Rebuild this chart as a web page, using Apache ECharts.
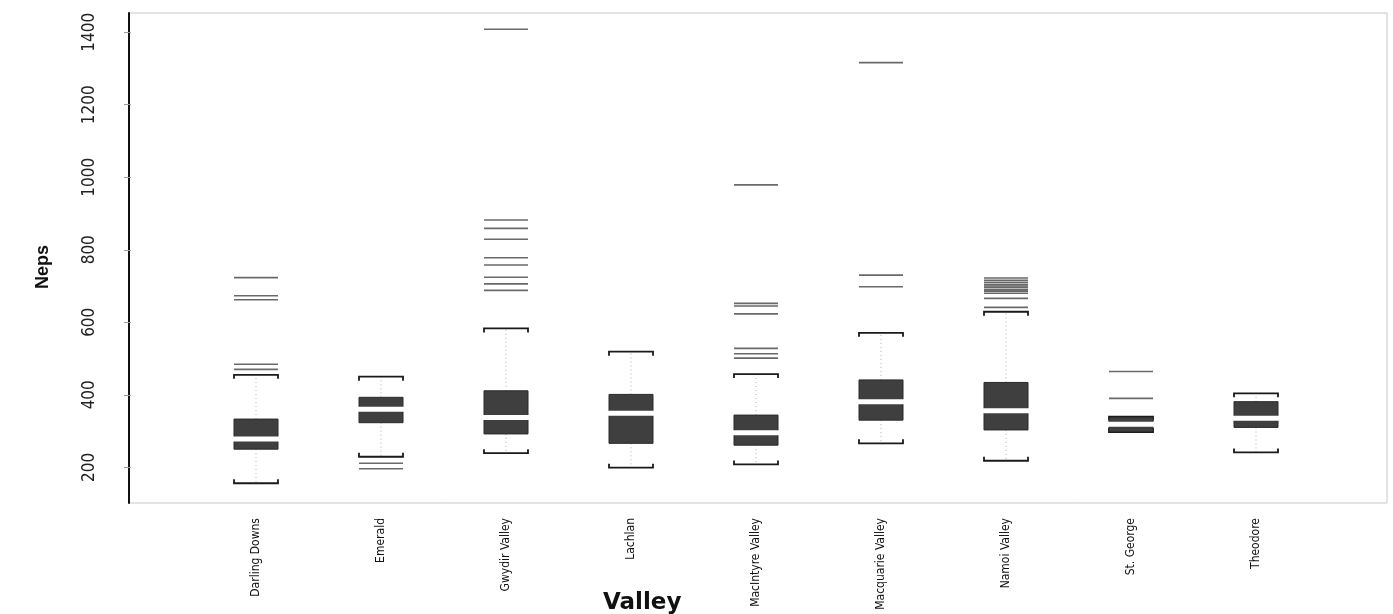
<!DOCTYPE html>
<html>
<head>
<meta charset="utf-8">
<script src="https://cdn.jsdelivr.net/npm/echarts@6/dist/echarts.min.js"></script>
<style>
html,body{margin:0;padding:0;background:#fff;}
#chart{width:1393px;height:614px;}
</style>
</head>
<body>
<div id="chart"></div>
<script>
const categories = ['Darling Downs','Emerald','Gwydir Valley','Lachlan','MacIntyre Valley','Macquarie Valley','Namoi Valley','St. George','Theodore'];
const lowerWhisker = [156, 229, 239, 199, 208, 266, 218, 297, 241];
const q1 = [250, 323, 292, 266, 261, 330, 303, 298, 310];
const median = [278, 360, 337, 349, 295, 381, 356, 319, 335];
const q3 = [333, 393, 411, 401, 344, 441, 434, 337, 381];
const upperWhisker = [455, 450, 583, 519, 457, 571, 629, 340, 404];
const outliers = [
  [723, 673, 662, 484, 470],
  [211, 196],
  [1408, 882, 859, 829, 778, 758, 724, 706, 688],
  [],
  [979, 652, 645, 623, 528, 513, 501],
  [1316, 730, 698],
  [722, 716, 710, 704, 700, 696, 690, 686, 680, 666, 641],
  [464, 390],
  []
];
const yTicks = [200, 400, 600, 800, 1000, 1200, 1400];

const boxData = categories.map((c, i) => [i + 1, lowerWhisker[i], q1[i], median[i], q3[i], upperWhisker[i]]);
const outlierData = [];
outliers.forEach((arr, i) => arr.forEach(v => outlierData.push([i + 1, v])));

const BOX_W = 0.352;
const narrow = "'Liberation Sans Narrow','DejaVu Sans Condensed','Arial Narrow',sans-serif";

function renderBox(params, api) {
  const x = api.value(0);
  const low = api.coord([x, api.value(1)]);
  const b1 = api.coord([x, api.value(2)]);
  const md = api.coord([x, api.value(3)]);
  const b3 = api.coord([x, api.value(4)]);
  const high = api.coord([x, api.value(5)]);
  const w = api.size([BOX_W, 0])[0];
  const cx = low[0];
  const l = cx - w / 2, r = cx + w / 2;
  const tick = 4;
  const dotted = {stroke: '#b0b0b0', lineWidth: 1, lineDash: [1, 3]};
  const brk = {stroke: '#1a1a1a', lineWidth: 1.8, fill: null};
  return {
    type: 'group',
    children: [
      {type: 'line', shape: {x1: cx, y1: b3[1], x2: cx, y2: high[1]}, style: dotted},
      {type: 'line', shape: {x1: cx, y1: b1[1], x2: cx, y2: low[1]}, style: dotted},
      {type: 'polyline', shape: {points: [[l, high[1] + tick], [l, high[1]], [r, high[1]], [r, high[1] + tick]]}, style: brk},
      {type: 'polyline', shape: {points: [[l, low[1] - tick], [l, low[1]], [r, low[1]], [r, low[1] - tick]]}, style: brk},
      {type: 'rect', shape: {x: l, y: b3[1], width: w, height: Math.max(b1[1] - b3[1], 1)}, style: {fill: '#3f3f3f', stroke: '#2a2a2a', lineWidth: 1}},
      {type: 'rect', shape: {x: l - 1, y: md[1] - 2.5, width: w + 2, height: 5}, style: {fill: '#ffffff'}}
    ]
  };
}

const chart = echarts.init(document.getElementById('chart'), null, {renderer: 'canvas'});
chart.setOption({
  animation: false,
  backgroundColor: '#ffffff',
  title: {
    text: 'Valley', left: 598, top: 587,
    textStyle: {fontFamily: "'DejaVu Sans',sans-serif", fontWeight: 'bold', fontSize: 23, color: '#111'}
  },
  grid: {left: 129, right: 6, top: 13, bottom: 111, show: true, borderColor: '#c8c8c8', borderWidth: 1, containLabel: false, outerBoundsMode: 'none'},
  xAxis: {
    type: 'value', min: -0.016, max: 10.048,
    axisLine: {show: false}, axisTick: {show: false}, splitLine: {show: false},
    axisLabel: {
      customValues: categories.map((c, i) => i + 1),
      formatter: v => categories[Math.round(v) - 1] || '',
      rotate: 90, margin: 15, fontFamily: narrow, fontSize: 12, color: '#111'
    }
  },
  yAxis: [
    {
      type: 'value', min: 101.5, max: 1453, offset: 9,
      axisLine: {show: false},
      axisTick: {show: true, length: 7, customValues: yTicks, lineStyle: {color: '#999'}},
      axisLabel: {customValues: yTicks, formatter: v => String(v), rotate: 90, margin: 22, fontFamily: narrow, fontSize: 17, color: '#222'},
      splitLine: {show: false},
      name: 'Neps', nameLocation: 'middle', nameGap: 68,
      nameTextStyle: {fontFamily: "'Liberation Sans',Arial,sans-serif", fontWeight: 'bold', fontSize: 18, color: '#111', padding: [0, 18, 0, 0]}
    },
    {
      type: 'value', min: 101.5, max: 1453, position: 'left',
      axisLine: {show: true, lineStyle: {color: '#111', width: 2}},
      axisTick: {show: false}, axisLabel: {show: false}, splitLine: {show: false}
    }
  ],
  series: [
    {
      type: 'custom', yAxisIndex: 0, renderItem: renderBox, data: boxData,
      encode: {x: 0, y: [1, 2, 3, 4, 5]}, z: 2
    },
    {
      type: 'scatter', yAxisIndex: 0, data: outlierData,
      symbol: 'rect', symbolSize: [44, 1.6],
      itemStyle: {color: '#444'}, z: 3
    }
  ]
});
</script>
</body>
</html>
